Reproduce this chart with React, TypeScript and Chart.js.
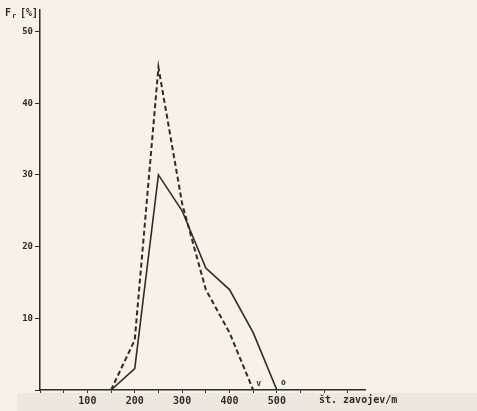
import React, { useEffect, useRef } from "react";
import { Chart, registerables } from "chart.js";

Chart.register(...registerables);

// Solid line ("o")
const solidX = [150, 200, 250, 300, 350, 400, 450, 500];
const solidY = [0, 3, 30, 25, 17, 14, 8, 0];
// Dashed line ("v")
const dashedX = [150, 200, 250, 300, 350, 400, 450];
const dashedY = [0, 7, 45, 26, 14, 8, 0];

const xTickLabels = [100, 200, 300, 400, 500];
const yTickLabels = [10, 20, 30, 40, 50];
const yTitle = ["F", "r", "[%]"];
const xTitle = "št. zavojev/m";
const solidTag = "o";
const dashedTag = "v";

const INK = "#2e2b28";
const FONT_FAMILY = "'DejaVu Sans Mono', monospace";

export default function App() {
  const ref = useRef<HTMLCanvasElement | null>(null);

  useEffect(() => {
    const canvas = ref.current;
    if (!canvas) return;

    const textPlugin = {
      id: "texts",
      beforeDraw(chart: any) {
        const ctx = chart.ctx;
        ctx.save();
        ctx.fillStyle = "#f7f1e7";
        ctx.fillRect(0, 0, chart.width, chart.height);
        ctx.fillStyle = "#ece8e0";
        ctx.fillRect(17, 393, chart.width - 17, chart.height - 393);
        ctx.restore();
      },
      afterDraw(chart: any) {
        const ctx = chart.ctx;
        const xs = chart.scales.x;
        const ys = chart.scales.y;
        ctx.save();
        ctx.fillStyle = INK;
        ctx.textBaseline = "middle";
        ctx.textAlign = "left";
        // y title
        ctx.font = `bold 10px ${FONT_FAMILY}`;
        ctx.fillText(yTitle[0], 5, 13);
        ctx.font = `bold 7px ${FONT_FAMILY}`;
        ctx.fillText(yTitle[1], 12, 16);
        ctx.font = `bold 10px ${FONT_FAMILY}`;
        ctx.fillText(yTitle[2], 20, 13);
        // x title
        ctx.fillText(xTitle, 319, 400);
        // line tags
        ctx.font = `bold 8px ${FONT_FAMILY}`;
        ctx.fillText(dashedTag, xs.getPixelForValue(450) + 3, ys.getPixelForValue(0) - 6);
        ctx.fillText(solidTag, xs.getPixelForValue(500) + 4, ys.getPixelForValue(0) - 7);
        ctx.restore();
      },
    };

    const chart = new Chart(canvas, {
      type: "line",
      data: {
        datasets: [
          {
            label: "o",
            data: solidX.map((x, i) => ({ x, y: solidY[i] })),
            borderColor: INK,
            borderWidth: 1.6,
            pointRadius: 0,
            tension: 0,
            fill: false,
          },
          {
            label: "v",
            data: dashedX.map((x, i) => ({ x, y: dashedY[i] })),
            borderColor: INK,
            borderWidth: 2,
            borderDash: [5, 3],
            pointRadius: 0,
            tension: 0,
            fill: false,
          },
        ],
      },
      options: {
        animation: false,
        responsive: false,
        devicePixelRatio: 1,
        layout: { padding: { top: 10, right: 112, left: 0, bottom: 0 } },
        plugins: {
          legend: { display: false },
          tooltip: { enabled: false },
          title: { display: false },
        },
        scales: {
          x: {
            type: "linear",
            min: 0,
            max: 686,
            border: { display: true, color: INK, width: 1.5 },
            grid: { display: true, drawOnChartArea: false, drawTicks: true, tickLength: 3, color: INK },
            ticks: {
              stepSize: 50,
              includeBounds: false,
              autoSkip: false,
              maxRotation: 0,
              padding: 2,
              color: INK,
              font: { family: FONT_FAMILY, size: 10, weight: "bold" },
              callback: (v: any) => (xTickLabels.includes(Number(v)) ? String(v) : ""),
            },
            afterFit: (s: any) => {
              s.height = 21;
            },
          },
          y: {
            type: "linear",
            min: 0,
            max: 53,
            border: { display: true, color: INK, width: 1.5 },
            grid: { display: true, drawOnChartArea: false, drawTicks: true, tickLength: 5, color: INK },
            ticks: {
              stepSize: 10,
              includeBounds: false,
              padding: 2,
              color: INK,
              font: { family: FONT_FAMILY, size: 9, weight: "bold" },
              callback: (v: any) => (yTickLabels.includes(Number(v)) ? String(v) : ""),
            },
            afterFit: (s: any) => {
              s.width = 40;
            },
          },
        },
      },
      plugins: [textPlugin],
    });

    return () => chart.destroy();
  }, []);

  return (
    <div style={{ position: "fixed", left: 0, top: 0, width: 477, height: 411, background: "#f7f1e7" }}>
      <canvas ref={ref} width={477} height={411} style={{ display: "block" }} />
    </div>
  );
}
